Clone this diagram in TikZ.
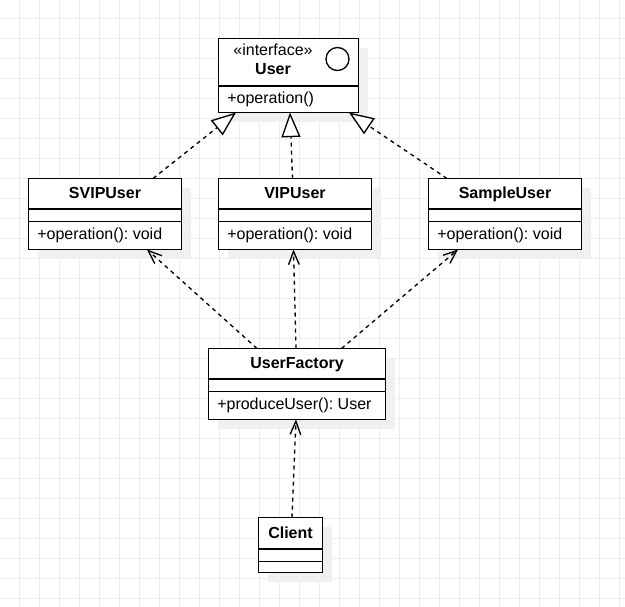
\documentclass[tikz,border=0pt]{standalone}
\usepackage{fontspec}
\setmainfont{Liberation Sans}
\usepackage{tikz}
\usetikzlibrary{arrows.meta, shadows}
\usepackage{xcolor}
\definecolor{gridgray}{RGB}{237,237,237}
\definecolor{shadowgray}{RGB}{240,240,240}
\frenchspacing

\begin{document}
\begin{tikzpicture}[x=0.75pt,y=0.75pt,yscale=-1,xscale=1,
  classbox/.style={draw, fill=white, line width=1pt, inner sep=0pt, outer sep=0pt,
    drop shadow={shadow xshift=6.75pt, shadow yshift=-6.75pt, fill=shadowgray, opacity=1}},
  classtext/.style={inner sep=0.75pt, font=\fontsize{12}{14}\selectfont},
  titletext/.style={inner sep=0.75pt, font=\fontsize{12}{14}\selectfont\bfseries},
  realize/.style={line width=1pt, dash pattern=on 3pt off 3pt, -{Triangle[fill=white, length=18.5pt, width=14.25pt]}},
  depend/.style={line width=1pt, dash pattern=on 3pt off 3pt, -{Straight Barb[length=10pt, width=8pt]}}]
%set diagram left start at 0, and has height of 607
\fill[white] (0,0) rectangle (625,607);
\useasboundingbox (0,0) rectangle (625,607);

%Grid
\foreach \gx in {19,39,...,619} \draw[gridgray, line width=0.75pt] (\gx,0) -- (\gx,607);
\foreach \gy in {18,38,...,598} \draw[gridgray, line width=0.75pt] (0,\gy) -- (625,\gy);

%Shape: Rectangle [User]
\node (user) [classbox, minimum width=105pt, minimum height=55.5pt] at (288.5,75.5) {};
%Straight Lines
\draw [line width=1pt] (user.west |- 0,86) -- (user.east |- 0,86) ;
%Shape: Circle
\node (usericon) [draw, circle, line width=1pt, minimum size=17.25pt, inner sep=0pt] at (337.5,59) {};

%Shape: Rectangle [SVIPUser]
\node (svip) [classbox, minimum width=114.75pt, minimum height=53.25pt] at (105,214) {};
\draw [line width=1pt] (svip.west |- 0,209) -- (svip.east |- 0,209) ;
\draw [line width=1pt] (svip.west |- 0,221.5) -- (svip.east |- 0,221.5) ;

%Shape: Rectangle [VIPUser]
\node (vip) [classbox, minimum width=114.75pt, minimum height=53.25pt] at (295,214) {};
\draw [line width=1pt] (vip.west |- 0,209) -- (vip.east |- 0,209) ;
\draw [line width=1pt] (vip.west |- 0,221.5) -- (vip.east |- 0,221.5) ;

%Shape: Rectangle [SampleUser]
\node (sample) [classbox, minimum width=114.75pt, minimum height=53.25pt] at (505,214) {};
\draw [line width=1pt] (sample.west |- 0,209) -- (sample.east |- 0,209) ;
\draw [line width=1pt] (sample.west |- 0,221.5) -- (sample.east |- 0,221.5) ;

%Shape: Rectangle [UserFactory]
\node (factory) [classbox, minimum width=132.75pt, minimum height=53.25pt] at (297,384) {};
\draw [line width=1pt] (factory.west |- 0,379) -- (factory.east |- 0,379) ;
\draw [line width=1pt] (factory.west |- 0,391.5) -- (factory.east |- 0,391.5) ;

%Shape: Rectangle [Client]
\node (client) [classbox, minimum width=48pt, minimum height=41.25pt] at (290.5,545) {};
\draw [line width=1pt] (client.west |- 0,549) -- (client.east |- 0,549) ;
\draw [line width=1pt] (client.west |- 0,561.5) -- (client.east |- 0,561.5) ;

%Straight Lines [realization]
\draw [realize] (153,0 |- svip.north) -- (236,0 |- user.south) ;
\draw [realize] (292.5,0 |- vip.north) -- (290,0 |- user.south) ;
\draw [realize] (447,0 |- sample.north) -- (349,0 |- user.south) ;
%Straight Lines [dependency]
\draw [depend] (257,0 |- factory.north) -- (147,0 |- svip.south) ;
\draw [depend] (296,0 |- factory.north) -- (293.5,0 |- vip.south) ;
\draw [depend] (341.5,0 |- factory.north) -- (458,0 |- sample.south) ;
\draw [depend] (292,0 |- client.north) -- (296,0 |- factory.south) ;

% Text Node
\draw (273,55) node (userstereo) [anchor=base][classtext] {«interface»};
% Text Node
\draw (273,74) node (username) [anchor=base][titletext] {User};
% Text Node
\draw (226,103) node (useroper) [anchor=base west][classtext] {+operation()};
% Text Node
\draw (105,198.5) node (sviptitle) [anchor=base][titletext] {SVIPUser};
% Text Node
\draw (36,239) node (svipoper) [anchor=base west][classtext] {+operation(): void};
% Text Node
\draw (295,198.5) node (viptitle) [anchor=base][titletext] {VIPUser};
% Text Node
\draw (226,239) node (vipoper) [anchor=base west][classtext] {+operation(): void};
% Text Node
\draw (505,198.5) node (sampletitle) [anchor=base][titletext] {SampleUser};
% Text Node
\draw (436,239) node (sampleoper) [anchor=base west][classtext] {+operation(): void};
% Text Node
\draw (297,368.5) node (factorytitle) [anchor=base][titletext] {UserFactory};
% Text Node
\draw (216,409.5) node (factoryoper) [anchor=base west][classtext] {+produceUser(): User};
% Text Node
\draw (290.5,538.5) node (clienttitle) [anchor=base][titletext] {Client};

\end{tikzpicture}
\end{document}
